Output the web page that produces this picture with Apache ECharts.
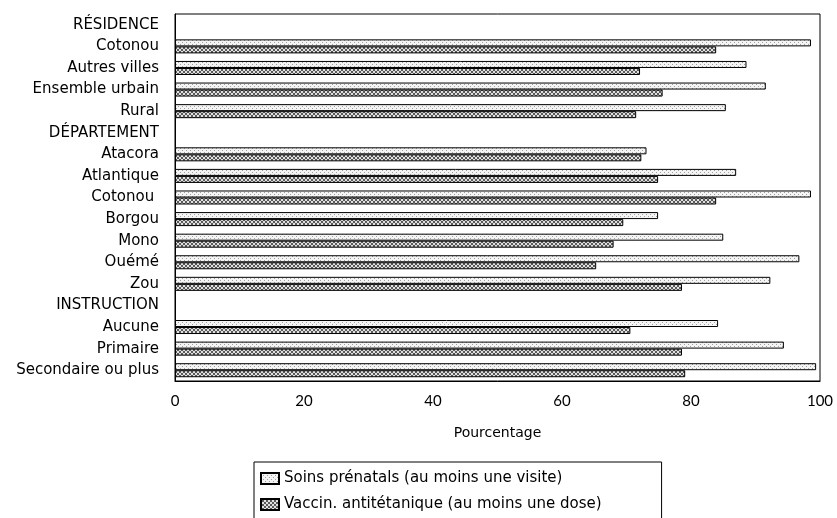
<!DOCTYPE html>
<html>
<head>
<meta charset="utf-8">
<script src="https://cdn.jsdelivr.net/npm/echarts@6/dist/echarts.min.js"></script>
<style>
html,body{margin:0;padding:0;background:#fff;}
#chart{width:837px;height:518px;}
</style>
</head>
<body>
<div id="chart"></div>
<script>
var categories = ['RÉSIDENCE','Cotonou','Autres villes','Ensemble urbain','Rural','DÉPARTEMENT','Atacora','Atlantique','Cotonou ','Borgou','Mono','Ouémé','Zou','INSTRUCTION','Aucune','Primaire','Secondaire ou plus'];
var soins  = [null, 98.6, 88.6, 91.6, 85.4, null, 73.1, 87.0, 98.6, 74.9, 85.0, 96.8, 92.3, null, 84.2, 94.4, 99.4];
var vaccin = [null, 83.9, 72.1, 75.6, 71.5, null, 72.3, 74.9, 83.9, 69.5, 68.0, 65.3, 78.6, null, 70.6, 78.6, 79.1];
var xTicks = [0, 20, 40, 60, 80, 100];
var seriesNames = ['Soins prénatals (au moins une visite)', 'Vaccin. antitétanique (au moins une dose)'];

function makePattern(kind) {
  var c = document.createElement('canvas');
  c.width = 4; c.height = 4;
  var g = c.getContext('2d');
  if (kind === 'dots') {
    g.fillStyle = '#f4f4f4'; g.fillRect(0, 0, 4, 4);
    g.fillStyle = '#a0a0a0';
    g.fillRect(0, 0, 1, 1); g.fillRect(2, 2, 1, 1);
  } else {
    g.fillStyle = '#e0e0e0'; g.fillRect(0, 0, 4, 4);
    g.fillStyle = '#5a5a5a';
    for (var i = 0; i < 4; i++) { g.fillRect(i, i, 1, 1); g.fillRect(3 - i, i, 1, 1); }
  }
  return { image: c, repeat: 'repeat' };
}

var LABEL_FONT = 'DejaVu Sans';
var chart = echarts.init(document.getElementById('chart'), null, { renderer: 'canvas' });
chart.setOption({
  animation: false,
  backgroundColor: '#fff',
  textStyle: { fontFamily: LABEL_FONT, color: '#000' },
  grid: { left: 175, right: 17, top: 14, bottom: 137, show: true, borderColor: '#000', borderWidth: 1, backgroundColor: 'transparent' },
  legend: {
    orient: 'vertical', left: 254, top: 462, height: 120,
    icon: 'rect',
    itemWidth: 18, itemHeight: 11, itemGap: 11,
    borderColor: '#000', borderWidth: 1, padding: [9, 60, 30, 6],
    textStyle: { fontFamily: LABEL_FONT, fontSize: 15, color: '#000' },
    data: seriesNames
  },
  xAxis: {
    type: 'value', min: xTicks[0], max: xTicks[xTicks.length - 1], interval: 20,
    name: 'Pourcentage', nameLocation: 'middle', nameGap: 45,
    nameTextStyle: { fontFamily: LABEL_FONT, fontSize: 14, color: '#000' },
    axisLine: { show: true, lineStyle: { color: '#000' } },
    axisTick: { show: false },
    splitLine: { show: false },
    axisLabel: { fontFamily: 'Lato', fontSize: 15, color: '#000', margin: 13 }
  },
  yAxis: {
    type: 'category', inverse: true, data: categories,
    axisLine: { show: true, lineStyle: { color: '#000' } },
    axisTick: { show: false },
    axisLabel: { fontFamily: LABEL_FONT, fontSize: 15, color: '#000', margin: 16 }
  },
  series: [
    { name: seriesNames[0], type: 'bar', data: soins, barGap: '0%', barCategoryGap: '35%',
      itemStyle: { color: makePattern('dots'), borderColor: '#000', borderWidth: 1 } },
    { name: seriesNames[1], type: 'bar', data: vaccin, barGap: '0%', barCategoryGap: '35%',
      itemStyle: { color: makePattern('cross'), borderColor: '#000', borderWidth: 1 } }
  ]
});
</script>
</body>
</html>
